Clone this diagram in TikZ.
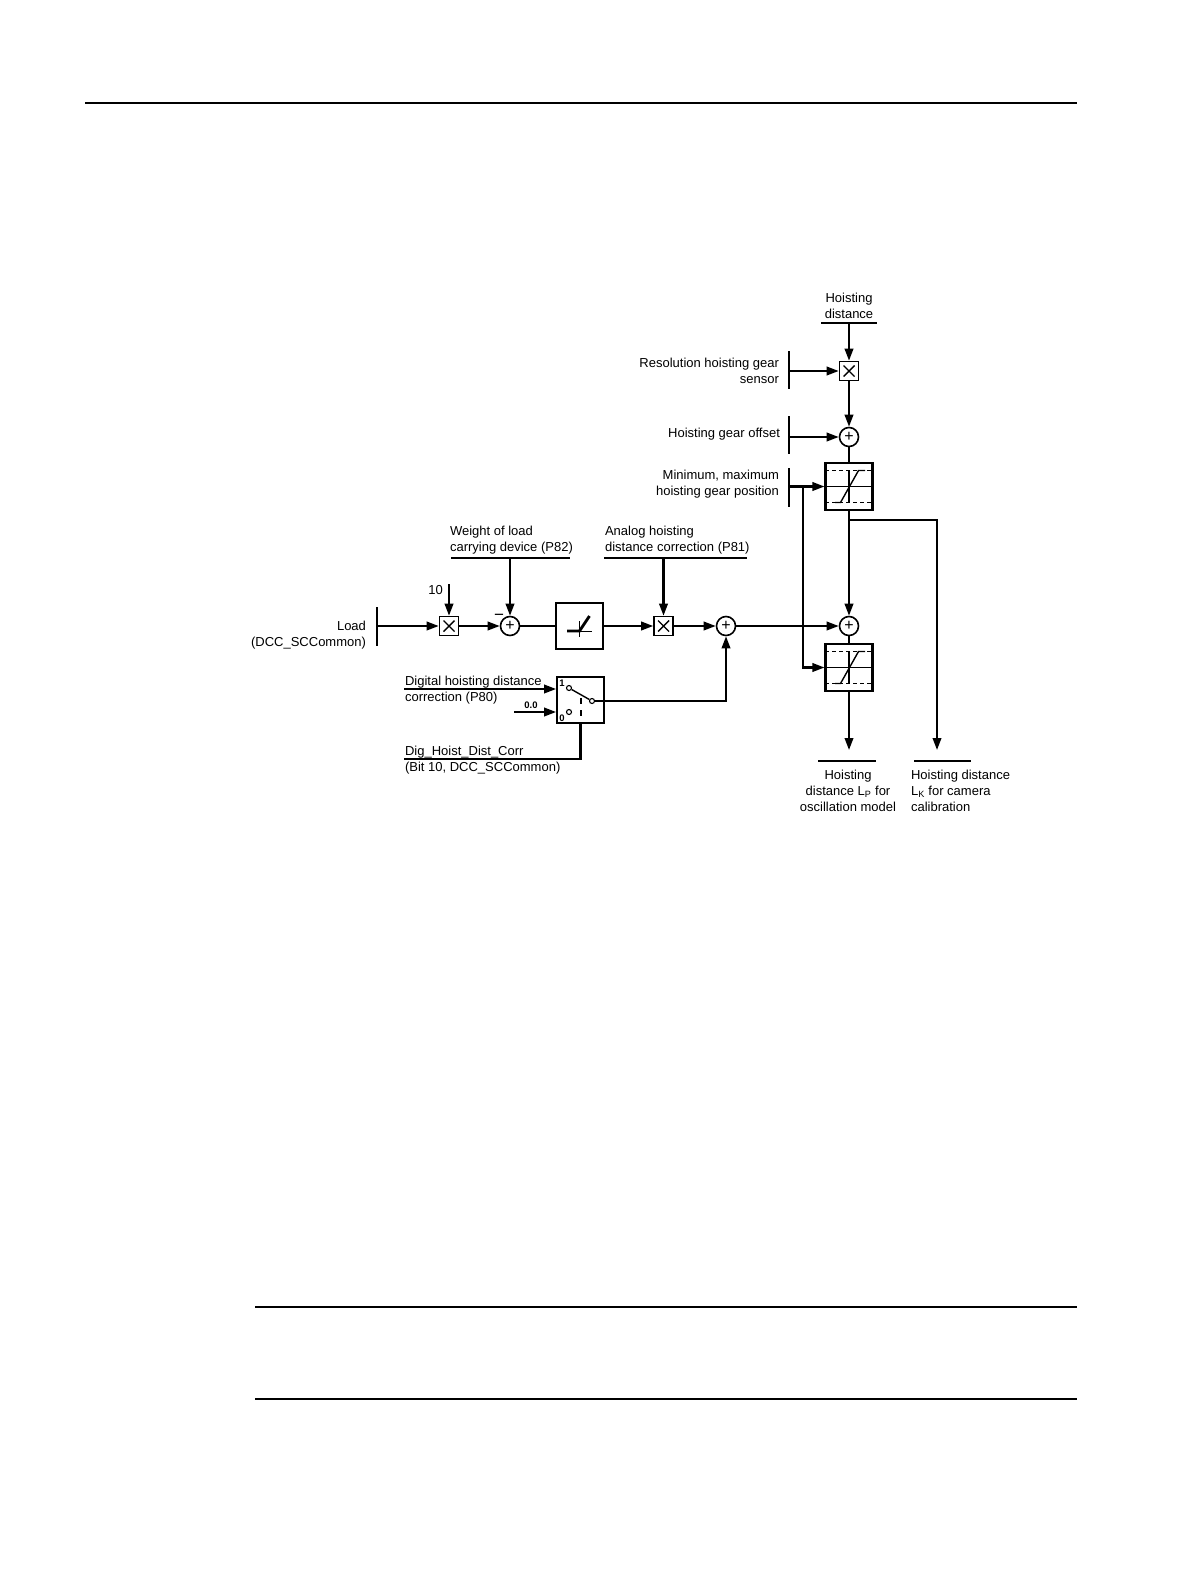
\documentclass[tikz,border=0pt]{standalone}
\usepackage{fontspec}
\setmainfont{Liberation Sans}
\usetikzlibrary{arrows.meta}
\begin{document}
\begin{tikzpicture}[x=1pt,y=-1pt, line width=2.1pt,
  font=\fontsize{13}{16}\selectfont,
  arr/.style={-{Triangle[length=12pt,width=8.5pt]}},
  txt/.style={inner sep=0pt},
  bar/.style={line width=2pt},
  smallbold/.style={inner sep=0pt, font=\bfseries\fontsize{9.5}{10}\selectfont},
  contact/.style={circle, draw, line width=1.1pt, minimum size=5pt, inner sep=0pt},
  mulbox/.style={draw, line width=1.6pt, minimum size=19pt, inner sep=0pt,
    path picture={\begin{scope}[shift={(path picture bounding box.center)}]
      \draw[line width=1.4pt] (-5.5,-5.5) -- (5.5,5.5) (5.5,-5.5) -- (-5.5,5.5);
    \end{scope}}},
  sumc/.style={draw, circle, line width=1.6pt, minimum size=19pt, inner sep=0pt,
    font=\fontsize{16}{16}\selectfont},
  limbox/.style={draw, minimum width=47pt, minimum height=47pt, inner sep=0pt,
    path picture={\begin{scope}[shift={(path picture bounding box.center)}]
      \draw[line width=1pt, dash pattern=on 4pt off 3pt] (-24,-16) -- (24,-16) (-24,16) -- (24,16);
      \draw[line width=1.1pt] (-24,0) -- (24,0) (0,-16) -- (0,16);
      \draw[line width=1.4pt] (-14,16) -- (-8.5,16) -- (9.5,-16) -- (16,-16);
    \end{scope}}},
  dzbox/.style={draw, minimum width=47pt, minimum height=46pt, inner sep=0pt,
    path picture={\begin{scope}[shift={(path picture bounding box.center)}]
      \draw[line width=1pt] (-12,5) -- (12,5) (0,-5) -- (0,11);
      \draw[line width=2.8pt] (-12.5,5) -- (0,5) -- (10,-10);
    \end{scope}}},
  swbox/.style={draw, line width=1.8pt, minimum width=47pt, minimum height=46pt, inner sep=0pt}
]
\useasboundingbox (0,0) rectangle (1191,1587);

% page rules
\draw[line width=1.6pt] (85,103) -- (1077,103);
\draw[line width=1.6pt] (255,1307) -- (1077,1307);
\draw[line width=1.6pt] (255,1399) -- (1077,1399);

% ---------- right column ----------
\node[txt, align=center] (hd) at (849,306) {Hoisting\\distance};
\draw[bar] (821,323) -- (877,323);
\coordinate (hdl) at (849,323);
\node[mulbox] (m1) at (849,371) {};
\draw[arr] (hdl) -- (m1);

\node[txt, align=right, anchor=east] (res) at (780,371) {Resolution hoisting gear\\sensor};
\draw[bar] (789,351) -- (789,389);
\coordinate (resb) at (789,371);
\draw[arr] (resb) -- (m1.west);

\node[sumc] (s0) at (849,437) {+};
\draw[arr] (m1) -- (s0);
\node[txt, anchor=east] (off) at (781,434) {Hoisting gear offset};
\draw[bar] (789,416) -- (789,454);
\coordinate (offb) at (789,437);
\draw[arr] (offb) -- (s0.west);

\node[limbox] (l1) at (849,486.5) {};
\draw (s0) -- (l1);
\node[txt, align=right, anchor=east] (mm) at (780,484) {Minimum, maximum\\hoisting gear position};
\draw[bar] (789,468) -- (789,507);
\coordinate (mmb) at (789,486.5);
\draw[arr] (mmb) -- (l1.west);
\coordinate (br) at (803,486.5);

\node[sumc] (s2) at (849,626) {+};
\node[limbox] (l2) at (849,667.5) {};
\draw[arr] (br) |- (l2.west);
\draw[arr] (l1) -- (s2);
\draw (s2) -- (l2);

\coordinate (out1) at (849,750);
\draw[arr] (l2) -- (out1);
\coordinate (brk) at (849,520);
\coordinate (out2) at (937,750);
\draw[arr] (brk) -| (out2);

\draw[bar] (818,761) -- (876,761);
\draw[bar] (914,761) -- (971,761);
\node[txt, align=center] (o1) at (848,791) {Hoisting\\distance L\textsubscript{P} for\\oscillation model};
\node[txt, align=left, anchor=west] (o2) at (910,791) {Hoisting distance\\L\textsubscript{K} for camera\\calibration};

% ---------- main chain ----------
\node[txt, align=right, anchor=east] (load) at (367,635) {Load\\(DCC\_SCCommon)};
\draw[bar] (377,607) -- (377,646);
\coordinate (loadb) at (377,626);
\node[mulbox] (m2) at (449,626) {};
\draw[arr] (loadb) -- (m2);
\node[txt, anchor=east] (ten) at (444,590) {10};
\coordinate (tent) at (449,584);
\draw[arr] (tent) -- (m2);

\node[sumc] (s1) at (510,626) {+};
\draw[arr] (m2) -- (s1);
\node[txt, align=left, anchor=west] (wl) at (449,540) {Weight of load\\carrying device (P82)};
\draw[bar] (451,558) -- (570,558);
\coordinate (wlb) at (510,558);
\draw[arr] (wlb) -- (s1);
\node[txt, font=\fontsize{17}{17}\selectfont] (minus) at (499,617) {−};

\node[dzbox] (dz) at (579.5,626) {};
\draw (s1) -- (dz);
\node[mulbox] (m3) at (663.5,626) {};
\draw[arr] (dz) -- (m3);
\node[txt, align=left, anchor=west] (an) at (604,540) {Analog hoisting\\distance correction (P81)};
\draw[bar] (604,558) -- (747,558);
\coordinate (anb) at (663.5,558);
\draw[arr] (anb) -- (m3);

\node[sumc] (s3) at (726,626) {+};
\draw[arr] (m3) -- (s3);
\draw[arr] (s3) -- (s2);

% ---------- switch ----------
\node[swbox] (sw) at (580.5,700) {};
\node[smallbold] (sw1) at (562,683.5) {1};
\node[smallbold] (sw0) at (562,718.5) {0};
\node[contact] (c1) at (569,688) {};
\node[contact] (c0) at (569,712) {};
\node[contact] (co) at (592,701) {};
\draw[line width=1.4pt] (c1) -- (co);
\draw[line width=1.6pt, dash pattern=on 5.5pt off 6.5pt] (581,698) -- (581,719);

\node[txt, align=left, anchor=west] (dig) at (404,690.5) {Digital hoisting distance\\correction (P80)};
\coordinate (digb) at (404,689);
\draw[arr] (digb) -- (digb -| sw.west);
\node[smallbold] (zz) at (531,705) {0.0};
\coordinate (zzb) at (514,712);
\draw[arr] (zzb) -- (zzb -| sw.west);
\draw[arr] (co) -| (s3);

\node[txt, align=left, anchor=west] (dhd) at (404,760.5) {Dig\_Hoist\_Dist\_Corr\\(Bit 10, DCC\_SCCommon)};
\coordinate (ctl) at (404,759);
\draw (sw.south) |- (ctl);
\end{tikzpicture}
\end{document}
